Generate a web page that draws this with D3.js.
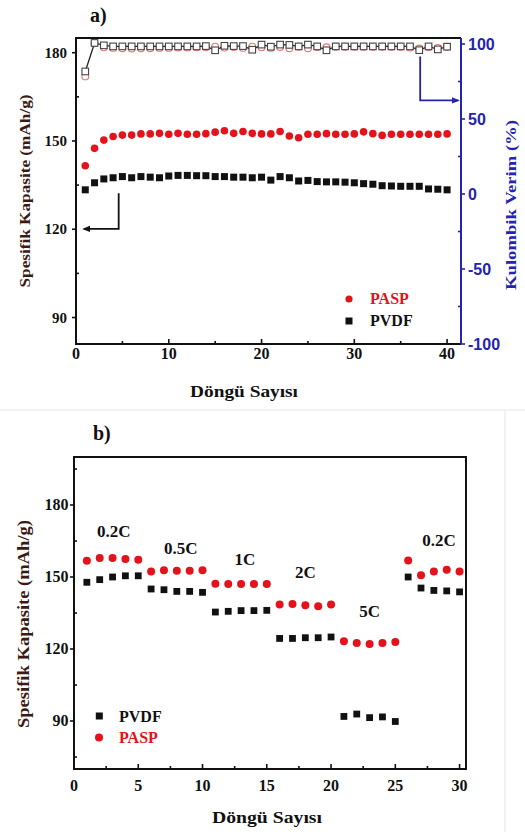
<!DOCTYPE html>
<html>
<head>
<meta charset="utf-8">
<script src="https://cdn.jsdelivr.net/npm/d3@7"></script>
<style>
  html, body { margin: 0; padding: 0; background: #fff; }
  svg { display: block; }
</style>
</head>
<body>
<svg id="chart" width="525" height="832"></svg>
<script>
// ---- panel a: cycling at constant rate ----
const cyclesA = [1,2,3,4,5,6,7,8,9,10,11,12,13,14,15,16,17,18,19,20,
                 21,22,23,24,25,26,27,28,29,30,31,32,33,34,35,36,37,38,39,40];
const paspCapA = [141.6,147.5,150.3,151.5,152.0,152.0,152.4,152.4,152.6,152.3,
                  152.6,152.3,152.3,152.5,153.0,153.5,152.6,153.2,152.6,152.4,
                  152.4,153.2,151.7,151.1,152.3,152.3,152.5,152.3,152.3,152.4,
                  153.1,152.5,151.9,152.3,152.3,152.3,152.3,152.3,152.3,152.4];
const pvdfCapA = [133.4,135.8,137.1,137.5,137.9,137.5,137.9,137.7,137.5,138.1,
                  138.3,138.3,138.2,138.2,137.9,137.9,137.7,137.7,137.5,137.7,
                  136.7,137.9,137.5,136.4,136.6,136.2,136.1,136.1,136.0,135.8,
                  135.5,135.3,134.8,134.7,134.6,134.6,134.6,133.7,133.6,133.4];
const pvdfCeA = [81.7,100.7,99.1,98.4,98.4,98.4,98.4,98.4,98.4,98.4,
                 98.4,98.4,98.4,98.6,95.8,98.8,98.6,98.6,96.2,99.6,
                 98.2,99.6,99.4,98.4,99.6,98.4,95.8,98.4,98.4,98.4,
                 98.4,98.4,98.4,98.4,98.4,98.4,95.9,98.4,96.4,98.2];
const paspCeA = [78.4,100.5,97.8,97.4,97.2,97.0,97.2,97.2,97.4,97.4,
                 97.6,97.6,97.8,97.8,98.2,97.6,98.0,97.4,98.2,97.8,
                 97.4,98.0,97.2,98.2,97.2,98.0,97.8,98.2,98.2,98.2,
                 98.2,98.2,98.2,98.2,98.2,97.6,97.0,98.0,97.4,98.2];
const xTicksA = [0, 10, 20, 30, 40];
const xMinorA = [5, 15, 25, 35];
const yTicksA = [90, 120, 150, 180];
const yMinorA = [105, 135, 165];
const ceTicks = [-100, -50, 0, 50, 100];
const ceMinor = [-75, -25, 25, 75];

// ---- panel b: rate capability ----
const cyclesB = [1,2,3,4,5,6,7,8,9,10,11,12,13,14,15,
                 16,17,18,19,20,21,22,23,24,25,26,27,28,29,30];
const paspCapB = [156.8,157.9,157.9,157.5,157.2, 152.3,152.8,152.6,152.6,152.8,
                  147.2,147.1,147.1,147.1,147.1, 138.5,138.7,138.2,137.8,138.5,
                  123.2,122.5,122.1,122.5,122.9, 156.9,150.7,152.3,153.0,152.3];
const pvdfCapB = [147.8,148.9,150.0,150.5,150.5, 145.0,144.7,144.0,144.0,143.6,
                  135.4,135.7,136.0,136.0,136.1, 124.4,124.4,124.7,124.7,125.0,
                  91.9,92.9,91.4,91.7,89.8, 150.0,145.4,144.4,144.2,143.8];
const rateLabels = ["0.2C", "0.5C", "1C", "2C", "5C", "0.2C"];
const rateLabelX = [3.1, 8.3, 13.3, 18.0, 23.0, 28.4];
const rateLabelY = [166.5, 159.5, 155.0, 149.5, 133.5, 163.0];
const xTicksB = [0, 5, 10, 15, 20, 25, 30];
const xMinorB = [2.5, 7.5, 12.5, 17.5, 22.5, 27.5];
const yTicksB = [90, 120, 150, 180];
const yMinorB = [75, 105, 135, 165, 195];

const RED = "#e3121b", PINK = "#e97373", BLACK = "#111", BLUE = "#2424b0", TITLE = "#3a1a14";
const SERIF = "'Liberation Serif', 'Times New Roman', Tinos, 'DejaVu Serif', serif";
const SANS = "'Liberation Sans', Arial, Arimo, sans-serif";

const svg = d3.select("#chart")
  .attr("font-family", SERIF).attr("font-weight", "bold");

// faint page edges around the lower panel
svg.append("line").attr("x1", 0).attr("x2", 525).attr("y1", 410).attr("y2", 410)
  .attr("stroke", "#eeeeee").attr("stroke-width", 1.5);
svg.append("line").attr("x1", 505).attr("x2", 505).attr("y1", 410).attr("y2", 832)
  .attr("stroke", "#eeeeee").attr("stroke-width", 1.5);

svg.append("defs").html(`
  <marker id="arrK" viewBox="0 0 10 10" refX="8" refY="5" markerWidth="4.5" markerHeight="4.5" orient="auto-start-reverse">
    <path d="M0,1 L10,5 L0,9 z" fill="${BLACK}"/></marker>
  <marker id="arrB" viewBox="0 0 10 10" refX="8" refY="5" markerWidth="4.5" markerHeight="4.5" orient="auto-start-reverse">
    <path d="M0,1 L10,5 L0,9 z" fill="${BLUE}"/></marker>`);

// ================= panel a =================
const xA = d3.scaleLinear().domain([0, 41.5]).range([76, 461]);
const yA = d3.scaleLinear().domain([81, 185]).range([344, 38]);
const yR = d3.scaleLinear().domain([-100, 104]).range([344, 38]);

const gA = svg.append("g");

function ticksBottom(g, x, y0, major, minor, pad, fs) {
  g.selectAll(null).data(major).enter().append("line")
    .attr("x1", d => x(d)).attr("x2", d => x(d)).attr("y1", y0).attr("y2", y0 - 5)
    .attr("stroke", BLACK).attr("stroke-width", 1.6);
  g.selectAll(null).data(minor).enter().append("line")
    .attr("x1", d => x(d)).attr("x2", d => x(d)).attr("y1", y0).attr("y2", y0 - 3)
    .attr("stroke", BLACK).attr("stroke-width", 1.6);
  g.selectAll(null).data(major).enter().append("text")
    .attr("x", d => x(d)).attr("y", y0 + pad).attr("text-anchor", "middle")
    .attr("font-size", fs).attr("fill", BLACK).text(d => d);
}
function ticksLeft(g, y, x0, major, minor, pad, fs) {
  g.selectAll(null).data(major).enter().append("line")
    .attr("x1", x0).attr("x2", x0 - 4).attr("y1", d => y(d)).attr("y2", d => y(d))
    .attr("stroke", BLACK).attr("stroke-width", 1.6);
  g.selectAll(null).data(minor).enter().append("line")
    .attr("x1", x0).attr("x2", x0 + 3).attr("y1", d => y(d)).attr("y2", d => y(d))
    .attr("stroke", BLACK).attr("stroke-width", 1.6);
  g.selectAll(null).data(major).enter().append("text")
    .attr("x", x0 - 4 - pad).attr("y", d => y(d)).attr("dy", "0.34em")
    .attr("text-anchor", "end").attr("font-size", fs).attr("fill", BLACK).text(d => d);
}
// axis titles stretched to a fixed run length
function title(g, txt, x, y, len, fs, fill, rotate) {
  return g.append("text")
    .attr("transform", `translate(${x},${y})` + (rotate ? " rotate(-90)" : ""))
    .attr("text-anchor", "middle").attr("font-size", fs).attr("fill", fill)
    .attr("textLength", len).attr("lengthAdjust", "spacingAndGlyphs").text(txt);
}

ticksBottom(gA, xA, 344, xTicksA, xMinorA, 15, 16);
ticksLeft(gA, yA, 76, yTicksA, yMinorA, 5, 15);

// right (efficiency) axis
gA.selectAll(null).data(ceTicks).enter().append("line")
  .attr("x1", 461).attr("x2", 465).attr("y1", d => yR(d)).attr("y2", d => yR(d))
  .attr("stroke", BLUE).attr("stroke-width", 1.6);
gA.selectAll(null).data(ceMinor).enter().append("line")
  .attr("x1", 461).attr("x2", 458).attr("y1", d => yR(d)).attr("y2", d => yR(d))
  .attr("stroke", BLUE).attr("stroke-width", 1.6);
gA.selectAll(null).data(ceTicks).enter().append("text")
  .attr("x", 468).attr("y", d => yR(d)).attr("dy", "0.36em")
  .attr("font-family", SANS).attr("font-size", 16)
  .attr("fill", BLUE).text(d => d);

// frame
gA.append("path").attr("d", `M461,38 H76 V344 H461`).attr("fill", "none")
  .attr("stroke", BLACK).attr("stroke-width", 2);
gA.append("line").attr("x1", 461).attr("x2", 461).attr("y1", 38).attr("y2", 344)
  .attr("stroke", BLUE).attr("stroke-width", 2);

// efficiency series (open markers)
gA.selectAll(null).data(cyclesA).enter().append("circle")
  .attr("cx", d => xA(d)).attr("cy", (d, i) => yR(paspCeA[i])).attr("r", 3.4)
  .attr("fill", "none").attr("stroke", PINK).attr("stroke-width", 1.1);
gA.append("path").datum(cyclesA)
  .attr("d", d3.line().x(d => xA(d)).y((d, i) => yR(pvdfCeA[i])))
  .attr("fill", "none").attr("stroke", "#222").attr("stroke-width", 1.3);
gA.selectAll(null).data(cyclesA).enter().append("rect")
  .attr("x", d => xA(d) - 3.3).attr("y", (d, i) => yR(pvdfCeA[i]) - 3.3)
  .attr("width", 6.6).attr("height", 6.6)
  .attr("fill", "#fff").attr("stroke", "#444").attr("stroke-width", 1.1);

// capacity series
gA.selectAll(null).data(cyclesA).enter().append("circle")
  .attr("cx", d => xA(d)).attr("cy", (d, i) => yA(paspCapA[i])).attr("r", 3.8)
  .attr("fill", RED);
gA.selectAll(null).data(cyclesA).enter().append("rect")
  .attr("x", d => xA(d) - 3.5).attr("y", (d, i) => yA(pvdfCapA[i]) - 3.5)
  .attr("width", 7).attr("height", 7).attr("fill", BLACK);

// arrows pointing each series group to its axis
gA.append("path")
  .attr("d", `M${xA(4.6)},${yA(132.2)} V${yA(120.1)} H${xA(0.85)}`)
  .attr("fill", "none").attr("stroke", BLACK).attr("stroke-width", 1.8)
  .attr("marker-end", "url(#arrK)");
gA.append("path")
  .attr("d", `M${xA(37.1)},${yR(91.7)} V${yR(62.4)} H${xA(41.2)}`)
  .attr("fill", "none").attr("stroke", BLUE).attr("stroke-width", 1.8)
  .attr("marker-end", "url(#arrB)");

// legend
gA.append("circle").attr("cx", 349).attr("cy", 299).attr("r", 3.6).attr("fill", RED);
gA.append("text").attr("x", 370).attr("y", 304).attr("font-size", 16).attr("fill", RED).text("PASP");
gA.append("rect").attr("x", 345.5).attr("y", 317.5).attr("width", 7).attr("height", 7).attr("fill", BLACK);
gA.append("text").attr("x", 370).attr("y", 326).attr("font-size", 16).attr("fill", BLACK).text("PVDF");

// titles
gA.append("text").attr("x", 90).attr("y", 22).attr("font-size", 20).attr("fill", BLACK).text("a)");
title(gA, "Döngü Sayısı", 244, 397, 108, 16, BLACK, false);
title(gA, "Spesifik Kapasite (mAh/g)", 30, 191, 193, 15, TITLE, true);
title(gA, "Kulombik Verim (%)", 516, 205, 170, 15, BLUE, true);

// ================= panel b =================
const xB = d3.scaleLinear().domain([0, 30.5]).range([74, 466]);
const yB = d3.scaleLinear().domain([70, 200]).range([769, 457]);
const gB = svg.append("g");

ticksBottom(gB, xB, 769, xTicksB, xMinorB, 22, 16);
ticksLeft(gB, yB, 74, yTicksB, yMinorB, 1.5, 16);

gB.append("rect").attr("x", 74).attr("y", 457).attr("width", 392).attr("height", 312)
  .attr("fill", "none").attr("stroke", BLACK).attr("stroke-width", 2);

gB.selectAll(null).data(cyclesB).enter().append("circle")
  .attr("cx", d => xB(d)).attr("cy", (d, i) => yB(paspCapB[i])).attr("r", 4)
  .attr("fill", RED);
gB.selectAll(null).data(cyclesB).enter().append("rect")
  .attr("x", d => xB(d) - 3.4).attr("y", (d, i) => yB(pvdfCapB[i]) - 3.4)
  .attr("width", 6.8).attr("height", 6.8).attr("fill", BLACK);

gB.selectAll(null).data(rateLabels).enter().append("text")
  .attr("x", (d, i) => xB(rateLabelX[i])).attr("y", (d, i) => yB(rateLabelY[i]))
  .attr("text-anchor", "middle").attr("font-size", 17).attr("fill", BLACK).text(d => d);

// legend
gB.append("rect").attr("x", 95.8).attr("y", 712.5).attr("width", 7).attr("height", 7).attr("fill", BLACK);
gB.append("text").attr("x", 119).attr("y", 722).attr("font-size", 16).attr("fill", BLACK).text("PVDF");
gB.append("circle").attr("cx", 99).attr("cy", 737.5).attr("r", 4).attr("fill", RED);
gB.append("text").attr("x", 119).attr("y", 743).attr("font-size", 16).attr("fill", RED).text("PASP");

gB.append("text").attr("x", 93).attr("y", 440).attr("font-size", 20).attr("fill", BLACK).text("b)");
title(gB, "Döngü Sayısı", 267, 823, 110, 16, BLACK, false);
title(gB, "Spesifik Kapasite (mAh/g)", 29, 624, 208, 16, TITLE, true);
</script>
</body>
</html>
